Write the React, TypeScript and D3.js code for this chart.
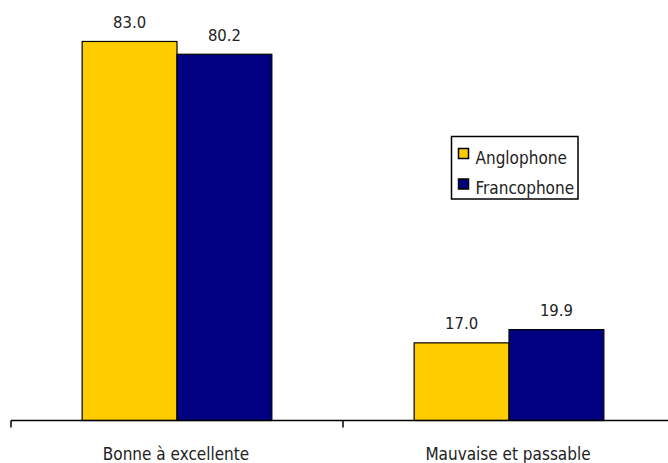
import React from "react";
import * as d3 from "d3";

// Self-rated health by language group (%)
const categories = ["Bonne à excellente", "Mauvaise et passable"];
const seriesNames = ["Anglophone", "Francophone"];
const anglophone = [83.0, 17.0];
const francophone = [80.2, 19.9];
const seriesColors = ["#FFCC00", "#000080"];

const W = 668;
const H = 463;
const FONT = "'DejaVu Sans Condensed', 'DejaVu Sans', sans-serif";

export default function App() {
  const values = [anglophone, francophone];

  const x0 = d3.scaleBand<string>().domain(categories).range([11, 675]).paddingInner(0).paddingOuter(0);
  const x1 = d3
    .scaleBand<string>()
    .domain(seriesNames)
    .range([0, x0.bandwidth()])
    .paddingInner(0)
    .paddingOuter(0.75);
  const y = d3.scaleLinear().domain([0, 90]).range([420.5, 9.5]);

  const baseY = y(0);
  const tickXs = categories.map((c) => x0(c) as number);

  return (
    <svg
      width={W}
      height={H}
      style={{ position: "absolute", left: 0, top: 0, background: "#fff" }}
      fontFamily={FONT}
    >
      {categories.map((cat, ci) => (
        <g key={cat} transform={`translate(${x0(cat)},0)`}>
          {seriesNames.map((s, si) => {
            const v = values[si][ci];
            const bx = x1(s) as number;
            const bw = x1.bandwidth();
            return (
              <g key={s}>
                <rect
                  x={bx}
                  y={y(v)}
                  width={bw}
                  height={baseY - y(v)}
                  fill={seriesColors[si]}
                  stroke="#000"
                  strokeWidth={1.2}
                />
                <text
                  x={bx + bw / 2}
                  y={y(v) - 13.5}
                  textAnchor="middle"
                  fontSize={16.5}
                  fill="#222"
                >
                  {v.toFixed(1)}
                </text>
              </g>
            );
          })}
        </g>
      ))}

      {/* category axis */}
      <line x1={11} x2={W} y1={baseY} y2={baseY} stroke="#000" strokeWidth={1.5} />
      {tickXs.map((tx) => (
        <line key={tx} x1={tx} x2={tx} y1={baseY} y2={baseY + 7} stroke="#000" strokeWidth={1.5} />
      ))}
      {categories.map((cat) => (
        <text
          key={cat}
          x={(x0(cat) as number) + x0.bandwidth() / 2 - 1}
          y={460}
          textAnchor="middle"
          fontSize={17}
          fill="#222"
        >
          {cat}
        </text>
      ))}

      {/* legend */}
      <g>
        <rect x={451.5} y={136.5} width={126.5} height={62.5} fill="#fff" stroke="#000" strokeWidth={1.5} />
        {seriesNames.map((s, si) => (
          <g key={s} transform={`translate(0,${si * 30.5})`}>
            <rect x={458.5} y={148.5} width={10} height={10} fill={seriesColors[si]} stroke="#000" strokeWidth={1.5} />
            <text x={475.5} y={163.5} fontSize={17} fill="#222">
              {s}
            </text>
          </g>
        ))}
      </g>
    </svg>
  );
}
